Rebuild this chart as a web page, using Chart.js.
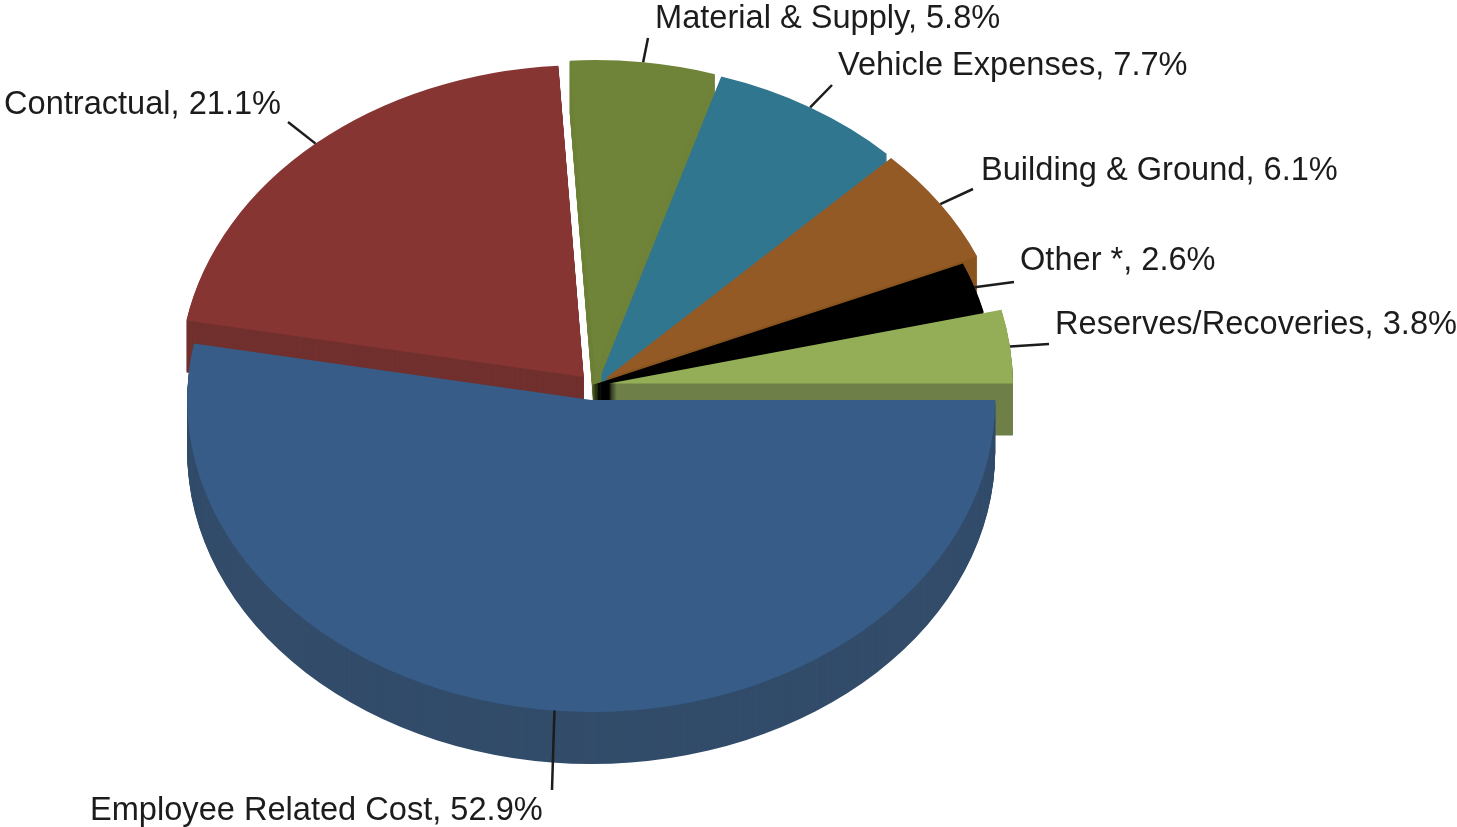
<!DOCTYPE html>
<html>
<head>
<meta charset="utf-8">
<title>Expenses pie</title>
<script src="https://cdn.jsdelivr.net/npm/chart.js@4/dist/chart.umd.min.js"></script>
<style>
  html, body { margin: 0; padding: 0; background: #fff; }
  #wrap { width: 1457px; height: 827px; }
</style>
</head>
<body>
<div id="wrap"><canvas id="myChart"></canvas></div>
<script>
const categories = ["Employee Related Cost", "Contractual", "Material & Supply", "Vehicle Expenses", "Building & Ground", "Other *", "Reserves/Recoveries"]
const shares = [52.9, 21.1, 5.8, 7.7, 6.1, 2.6, 3.8]

// look of each slice, same order as categories
const topColors = ["#375c88", "#863533", "#6f8339", "#31768f", "#935a25", "#000000", "#93ae57"]
const wallColors = ["#324c6a", "#71302e", "#6f8339", "#31768f", "#8a5520", "#000000", "#6f8049"]
const explode = [19.5, 14, 17, 16, 15, -2, 16]
const paintOrder = [1, 2, 3, 4, 5, 6, 0]

// text x, text middle y, leader end x, leader end y
const labelSpots = [
  [90, 811, 552, 790],
  [4, 105, 288, 122],
  [655, 19, 648, 38],
  [838, 66, 832, 85],
  [981, 171, 973, 189],
  [1020, 261, 1014, 282],
  [1055, 325, 1049, 344]
]

const flatten = 0.772
const depth = 52

function midAngle(arc) {
  return (arc.startAngle + arc.endAngle) / 2
}

const pie3d = {
  id: "pie3d",
  beforeDatasetDraw(chart, args) {
    const ctx = chart.ctx
    const arcs = args.meta.data
    paintOrder.forEach(i => {
      const arc = arcs[i]
      const mid = midAngle(arc)
      ctx.save()
      ctx.translate(arc.x, arc.y)
      // side wall first, stacked copies going up to the top face
      ctx.fillStyle = wallColors[i]
      for (let d = depth; d > 0; d--) {
        ctx.save()
        ctx.translate(0, d)
        ctx.scale(1, flatten)
        ctx.translate(Math.cos(mid) * explode[i], Math.sin(mid) * explode[i])
        ctx.beginPath()
        ctx.moveTo(0, 0)
        ctx.arc(0, 0, arc.outerRadius, arc.startAngle, arc.endAngle)
        ctx.closePath()
        ctx.fill()
        ctx.restore()
      }
      ctx.scale(1, flatten)
      ctx.translate(Math.cos(mid) * explode[i], Math.sin(mid) * explode[i])
      ctx.translate(-arc.x, -arc.y)
      arc.draw(ctx)
      ctx.restore()
    })
    return false
  },
  afterDatasetsDraw(chart) {
    const ctx = chart.ctx
    const arcs = chart.getDatasetMeta(0).data
    ctx.save()
    ctx.font = "32.6px 'Liberation Sans'"
    ctx.textBaseline = "middle"
    ctx.fillStyle = "#1c1c1c"
    ctx.strokeStyle = "#1c1c1c"
    ctx.lineWidth = 2.5
    arcs.forEach((arc, i) => {
      const mid = midAngle(arc)
      const spot = labelSpots[i]
      const rimX = arc.x + Math.cos(mid) * (arc.outerRadius + explode[i])
      const rimY = arc.y + Math.sin(mid) * (arc.outerRadius + explode[i]) * flatten
      ctx.beginPath()
      ctx.moveTo(rimX, rimY)
      ctx.lineTo(spot[2], spot[3])
      ctx.stroke()
      ctx.fillText(`${categories[i]}, ${shares[i].toFixed(1)}%`, spot[0], spot[1])
    })
    ctx.restore()
  }
}

new Chart(document.getElementById("myChart").getContext("2d"), {
  type: "pie",
  data: {
    labels: categories,
    datasets: [{
      data: shares,
      backgroundColor: topColors,
      borderWidth: 0
    }]
  },
  options: {
    responsive: true,
    maintainAspectRatio: false,
    animation: false,
    rotation: 90,
    radius: 404,
    // moves the pie centre to 593, 385
    layout: { padding: { left: 0, right: 271, top: 0, bottom: 57 } },
    plugins: { legend: { display: false }, tooltip: { enabled: false } }
  },
  plugins: [pie3d]
})
</script>
</body>
</html>
